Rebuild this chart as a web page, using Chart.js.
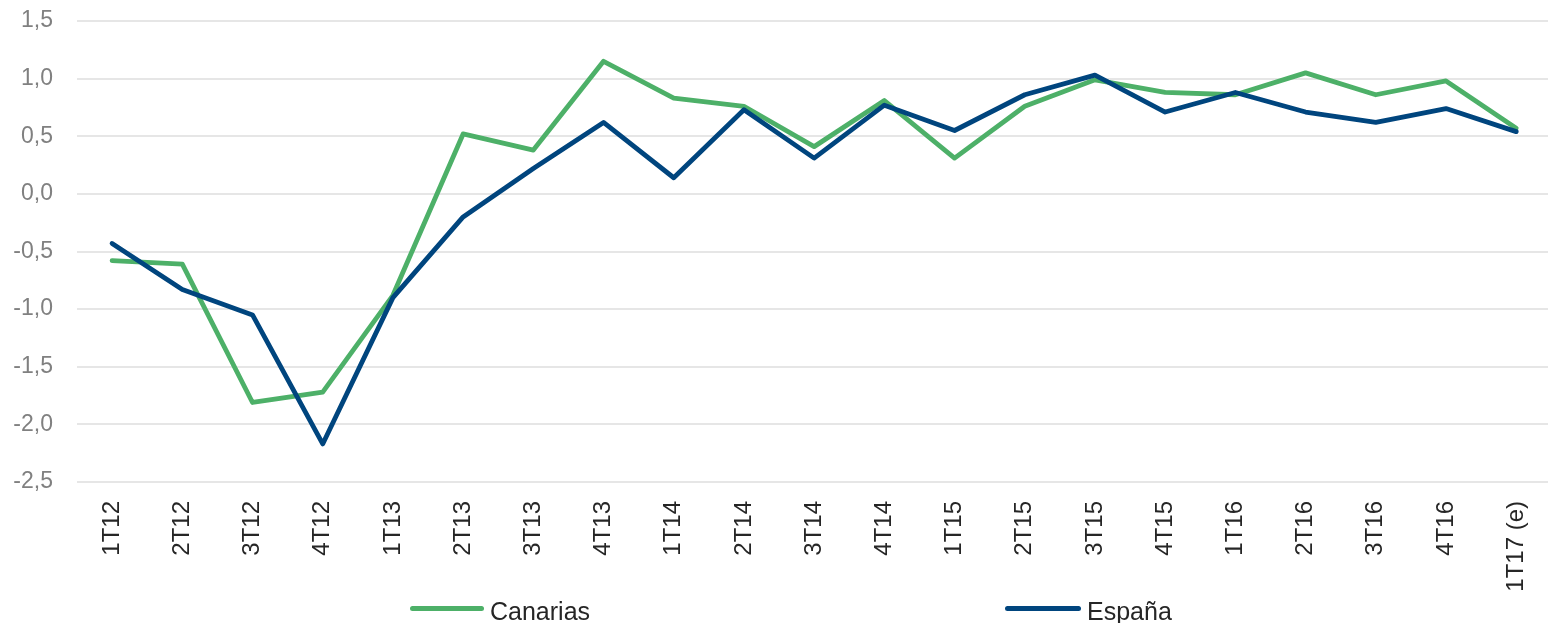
<!DOCTYPE html>
<html>
<head>
<meta charset="utf-8">
<script src="https://cdn.jsdelivr.net/npm/chart.js@4/dist/chart.umd.min.js"></script>
<style>
  html, body { margin: 0; padding: 0; background: #fff; overflow: hidden; }
  #wrap { position: relative; width: 1564px; height: 623px; }
  #chart { position: absolute; left: 0; top: 0; }
  .lg-line { position: absolute; height: 5px; border-radius: 3px; }
  .lg-text { position: absolute; font-family: "Liberation Sans", Arial, sans-serif; font-size: 25px; line-height: 25px; color: #262626; white-space: nowrap; }
</style>
</head>
<body>
<div id="wrap">
  <canvas id="chart" width="1564" height="623"></canvas>
  <div class="lg-line" style="left:410px; top:606px; width:74px; background:#4DB068;"></div>
  <div class="lg-text" style="left:490px; top:599px;">Canarias</div>
  <div class="lg-line" style="left:1005px; top:606px; width:76px; background:#00457E;"></div>
  <div class="lg-text" style="left:1087px; top:599px;">España</div>
</div>
<script>
const categories = ['1T12','2T12','3T12','4T12','1T13','2T13','3T13','4T13','1T14','2T14','3T14','4T14','1T15','2T15','3T15','4T15','1T16','2T16','3T16','4T16','1T17 (e)'];
const canarias = [-0.58,-0.61,-1.81,-1.72,-0.88,0.52,0.38,1.15,0.83,0.76,0.41,0.81,0.31,0.76,0.99,0.88,0.86,1.05,0.86,0.98,0.57];
const espana = [-0.43,-0.83,-1.05,-2.17,-0.90,-0.20,0.22,0.62,0.14,0.73,0.31,0.77,0.55,0.86,1.03,0.71,0.88,0.71,0.62,0.74,0.54];
const yMin = -2.5, yMax = 1.5, yStep = 0.5;

new Chart(document.getElementById('chart'), {
  type: 'line',
  data: {
    labels: categories,
    datasets: [
      { label: 'Canarias', data: canarias, borderColor: '#4DB068', backgroundColor: '#4DB068',
        borderWidth: 4.8, pointRadius: 0, tension: 0, order: 1, borderCapStyle: 'round', borderJoinStyle: 'round' },
      { label: 'España', data: espana, borderColor: '#00457E', backgroundColor: '#00457E',
        borderWidth: 4.8, pointRadius: 0, tension: 0, order: 0, borderCapStyle: 'round', borderJoinStyle: 'round' }
    ]
  },
  options: {
    responsive: false,
    devicePixelRatio: 1,
    animation: false,
    layout: { padding: { top: 21, right: 0, bottom: 0, left: 0 } },
    plugins: { legend: { display: false }, tooltip: { enabled: false } },
    scales: {
      x: {
        offset: true,
        grid: { display: false, drawTicks: false },
        border: { display: false },
        ticks: {
          color: '#262626', font: { family: 'Liberation Sans', size: 24 },
          minRotation: 90, maxRotation: 90, padding: 19, autoSkip: false
        },
        afterFit: s => { s.height = 141; }
      },
      y: {
        min: yMin, max: yMax,
        grid: { color: '#e6e6e6', lineWidth: 2, drawTicks: false },
        border: { display: false },
        ticks: {
          stepSize: yStep, color: '#808080', font: { family: 'Liberation Sans', size: 23 }, padding: 24,
          callback: v => v.toFixed(1).replace('.', ',')
        },
        afterFit: s => { s.width = 77; s.paddingTop = 0; s.paddingBottom = 0; }
      }
    }
  }
});
</script>
</body>
</html>
